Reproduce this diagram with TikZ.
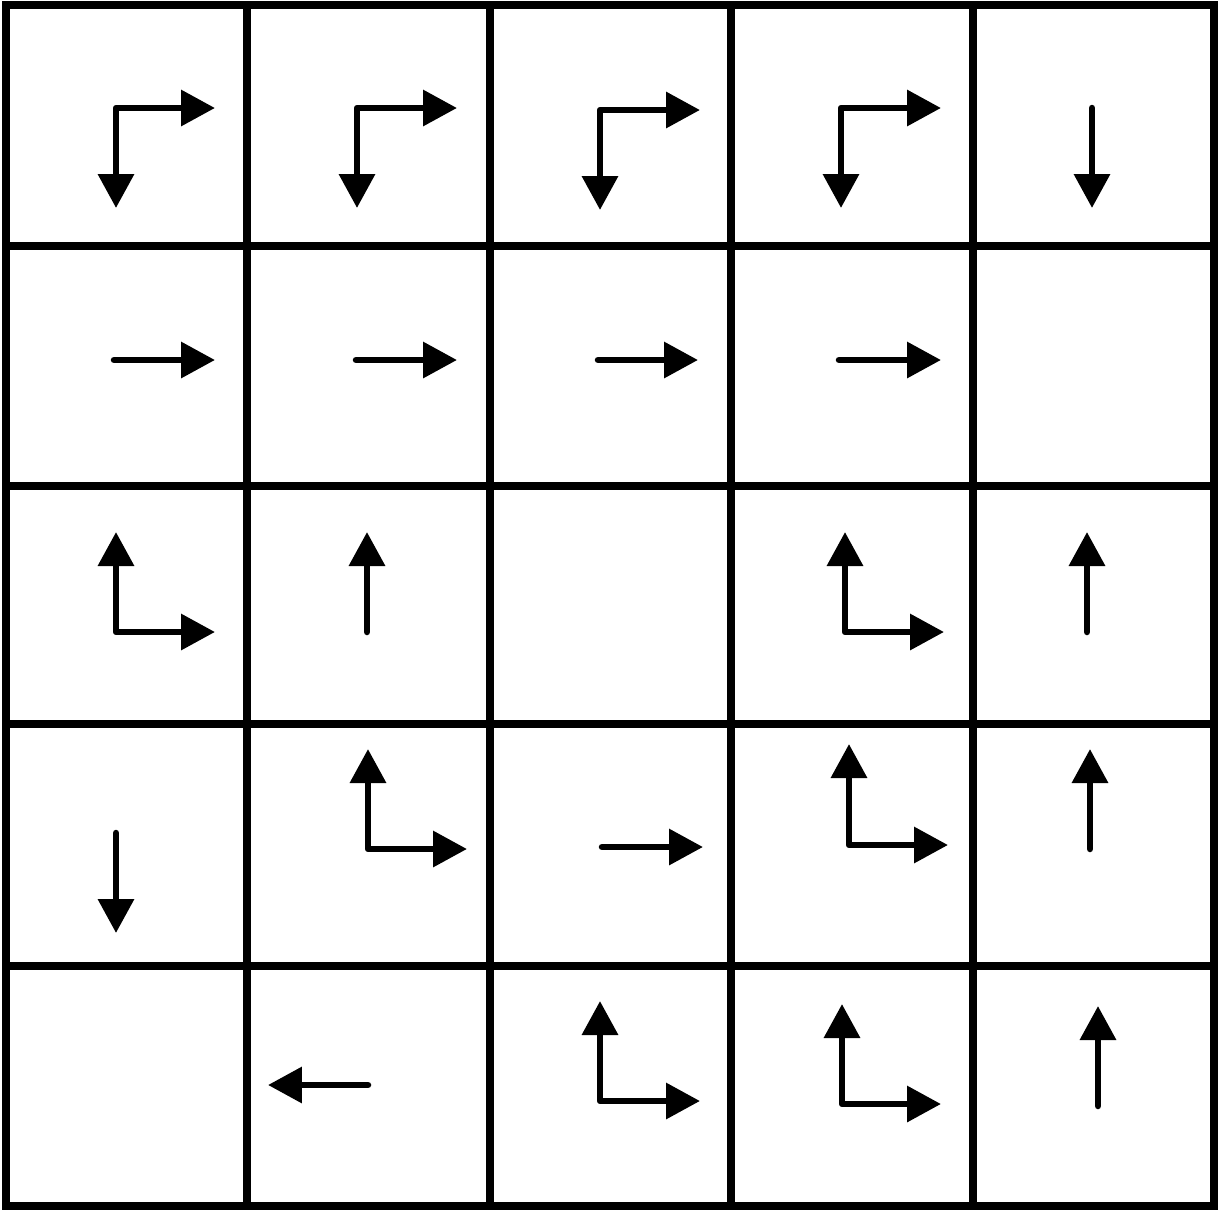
\documentclass[tikz,border=0pt]{standalone}
\usetikzlibrary{arrows.meta}
\begin{document}
\begin{tikzpicture}[
        x=0.02cm, y=-0.02cm,
        grid/.style={line width=5.1pt, line cap=rect},
        arr/.style={line width=3.7pt, line cap=round, line join=round,
          -{Triangle[length=0.68cm, width=0.7cm]}},
        larr/.style={line width=3.7pt, line cap=round, line join=round,
          {Triangle[length=0.68cm, width=0.7cm]}-{Triangle[length=0.68cm, width=0.7cm]}}]

  \useasboundingbox (0,0) rectangle (1221,1211);

  % grid ---------------------------------------------------
  \draw[grid] (6,5) rectangle (1214,1206);
  \foreach \gx in {247,490,731,973}
    \draw[grid] (\gx,5) -- (\gx,1206);
  \foreach \gy in {246,486,724,966}
    \draw[grid] (6,\gy) -- (1214,\gy);

  % row 1 --------------------------------------------------
  \draw[larr] (116,208) -- (116,108) -- (215,108);
  \draw[larr] (357,208) -- (357,108) -- (457,108);
  \draw[larr] (600,210) -- (600,110) -- (700,110);
  \draw[larr] (841,208) -- (841,108) -- (941,108);
  \draw[arr]  (1092,108) -- (1092,208);

  % row 2 --------------------------------------------------
  \draw[arr] (114,360) -- (215,360);
  \draw[arr] (356,360) -- (457,360);
  \draw[arr] (598,360) -- (698,360);
  \draw[arr] (839,360) -- (941,360);

  % row 3 --------------------------------------------------
  \draw[larr] (116,532) -- (116,632) -- (215,632);
  \draw[arr]  (367,632) -- (367,532);
  \draw[larr] (845,532) -- (845,632) -- (944,632);
  \draw[arr]  (1087,632) -- (1087,532);

  % row 4 --------------------------------------------------
  \draw[arr]  (116,833) -- (116,933);
  \draw[larr] (368,749) -- (368,849) -- (467,849);
  \draw[arr]  (602,847) -- (703,847);
  \draw[larr] (849,744) -- (849,845) -- (948,845);
  \draw[arr]  (1090,849) -- (1090,749);

  % row 5 --------------------------------------------------
  \draw[arr]  (368,1085) -- (268,1085);
  \draw[larr] (600,1001) -- (600,1101) -- (700,1101);
  \draw[larr] (842,1004) -- (842,1104) -- (941,1104);
  \draw[arr]  (1098,1106) -- (1098,1006);

\end{tikzpicture}
\end{document}
